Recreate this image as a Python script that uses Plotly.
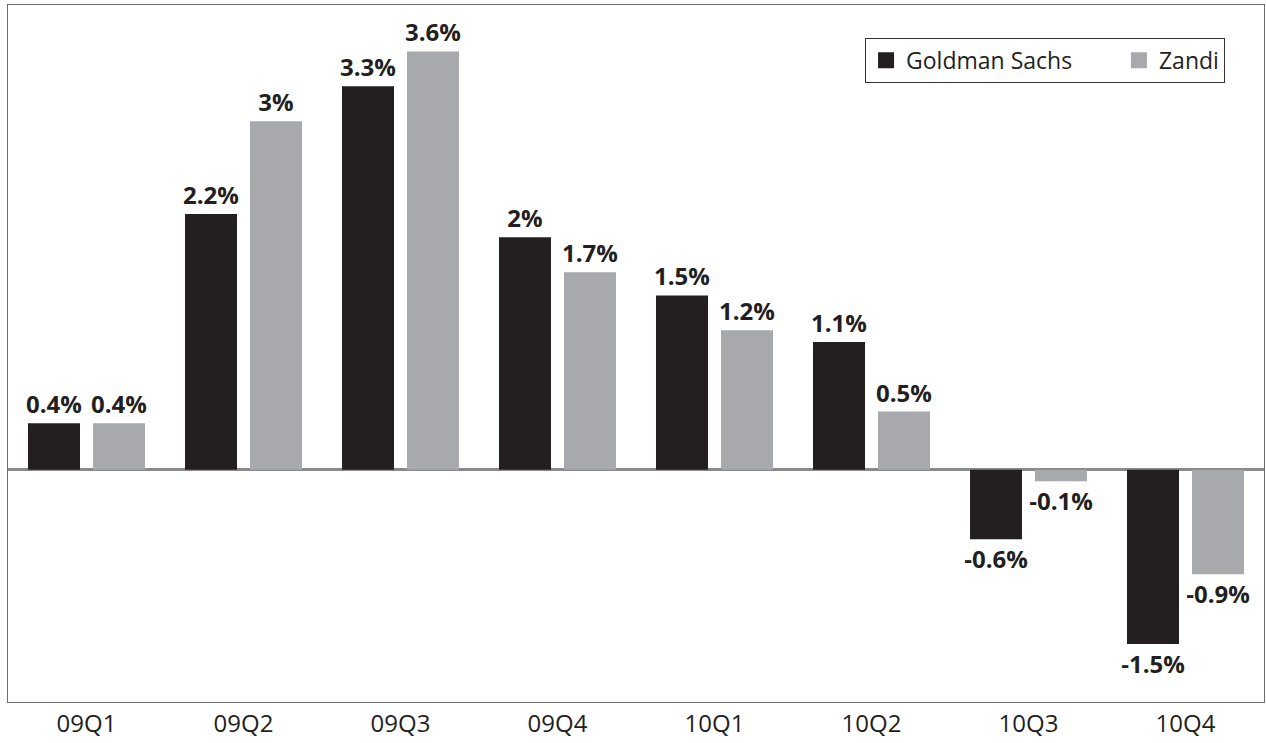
import plotly.graph_objects as go

quarters = ["09Q1", "09Q2", "09Q3", "09Q4", "10Q1", "10Q2", "10Q3", "10Q4"]
goldman = [0.4, 2.2, 3.3, 2.0, 1.5, 1.1, -0.6, -1.5]
zandi = [0.4, 3.0, 3.6, 1.7, 1.2, 0.5, -0.1, -0.9]

FONT = "Open Sans, Liberation Sans, sans-serif"
INK = "#231f20"


def pct(v):
    return f"{v:g}%"


fig = go.Figure()
series = [("Goldman Sachs", goldman, "#231f20"), ("Zandi", zandi, "#a7a9ac")]
for name, vals, color in series:
    fig.add_trace(go.Bar(
        name=name, x=quarters, y=vals, marker=dict(color=color, line_width=0),
        text=[pct(v) for v in vals], textposition="outside",
        textfont=dict(family=FONT, size=24, color=INK, weight="bold"),
        constraintext="none", cliponaxis=False, showlegend=False,
    ))

# legend proxies with larger square swatches; padding spaces widen the gap
legend_names = ["Goldman Sachs" + "\u00a0" * 7, "Zandi"]
for (name, vals, color), label in zip(series, legend_names):
    fig.add_trace(go.Scatter(
        name=label, x=[None], y=[None], mode="markers",
        marker=dict(symbol="square", size=17, color=color),
        showlegend=True,
    ))

fig.update_layout(
    width=1266, height=743,
    margin=dict(l=8, r=2, t=5, b=41),
    paper_bgcolor="white", plot_bgcolor="white",
    barmode="group", bargap=0.172, bargroupgap=0.2,
    font=dict(family=FONT, size=24, color=INK),
    showlegend=True,
    legend=dict(
        orientation="h", x=0.969, y=0.953, xanchor="right", yanchor="top",
        bordercolor="#333333", borderwidth=1, bgcolor="white",
        font=dict(family=FONT, size=23, color=INK),
        itemwidth=30,
    ),
    xaxis=dict(showgrid=False, ticks="", showline=True, linecolor="#6d6e71",
               linewidth=1, mirror=True, tickfont=dict(size=24), ticklen=0),
    yaxis=dict(range=[-2, 4], showgrid=False, showticklabels=False, ticks="",
               showline=True, linecolor="#6d6e71", linewidth=1, mirror=True,
               zeroline=True, zerolinecolor="#8a8a8a", zerolinewidth=3),
)

fig.write_html("out.html")
